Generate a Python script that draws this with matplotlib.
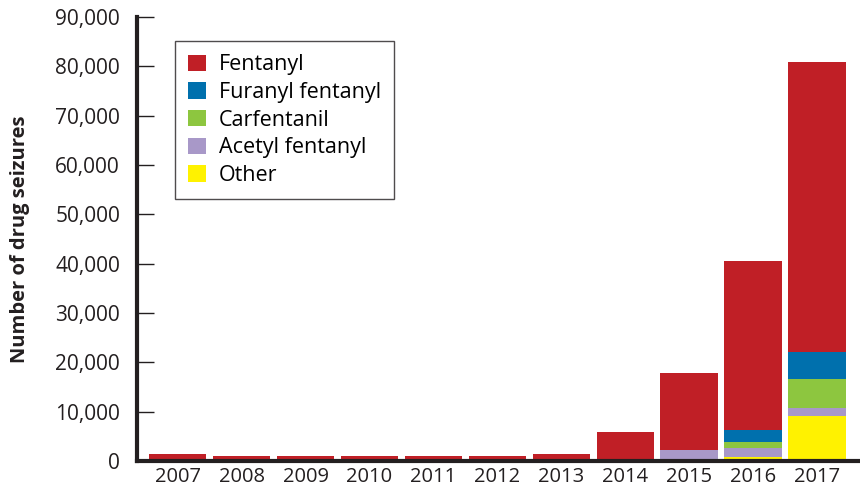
import matplotlib.pyplot as plt
import numpy as np

years = ["2007", "2008", "2009", "2010", "2011", "2012", "2013", "2014", "2015", "2016", "2017"]
other = [0, 0, 0, 0, 0, 0, 0, 0, 300, 900, 9100]
acetyl = [0, 0, 0, 0, 0, 0, 0, 0, 2000, 1700, 1600]
carfentanil = [0, 0, 0, 0, 0, 0, 0, 0, 0, 1300, 6000]
furanyl = [0, 0, 0, 0, 0, 0, 0, 0, 0, 2400, 5300]
fentanyl = [1400, 1000, 1000, 1000, 1000, 1000, 1400, 5900, 15600, 34300, 58900]

plt.rcParams['font.family'] = ['Open Sans', 'DejaVu Sans']

fig = plt.figure(figsize=(8.6, 4.93), dpi=100)
ax = fig.add_axes([0.159, 0.065, 0.841, 0.9005])

x = np.arange(len(years))
w = 0.9
series = [
    ("Other", other, "#FFF200"),
    ("Acetyl fentanyl", acetyl, "#A898C8"),
    ("Carfentanil", carfentanil, "#8DC63F"),
    ("Furanyl fentanyl", furanyl, "#0070AD"),
    ("Fentanyl", fentanyl, "#C01F26"),
]
bottom = np.zeros(len(years))
handles = {}
for name, vals, col in series:
    b = ax.bar(x, vals, w, bottom=bottom, color=col, label=name, zorder=2)
    handles[name] = b
    bottom += np.array(vals)

order = ["Fentanyl", "Furanyl fentanyl", "Carfentanil", "Acetyl fentanyl", "Other"]
leg = ax.legend([handles[n] for n in order], order, loc="upper left",
                bbox_to_anchor=(0.053, 0.945), fontsize=15.5, frameon=True,
                fancybox=False, borderpad=0.6, handlelength=0.85, handleheight=0.8,
                labelspacing=0.31, handletextpad=0.6, borderaxespad=0)
leg.get_frame().set_edgecolor("#231F20")
leg.get_frame().set_linewidth(1.0)

ax.set_xlim(-0.64, 10.67)
ax.set_ylim(0, 90000)
ax.set_xticks(x)
ax.set_xticklabels(years)
ax.set_yticks(np.arange(0, 90001, 10000))
ax.set_yticklabels([f"{v:,}" for v in range(0, 90001, 10000)])
ax.tick_params(axis="y", direction="in", length=12, width=1, color="#231F20",
               labelsize=15, labelcolor="#231F20", pad=12)
ax.tick_params(axis="x", length=0, labelsize=14.5, labelcolor="#231F20", pad=4)

for s in ["top", "right"]:
    ax.spines[s].set_visible(False)
ax.spines["left"].set_linewidth(3)
ax.spines["bottom"].set_linewidth(3)
ax.spines["left"].set_color("#231F20")
ax.spines["bottom"].set_color("#231F20")

ax.set_ylabel("Number of drug seizures", fontsize=14.5, fontweight="bold",
              color="#231F20", labelpad=18)

fig.savefig("out.png", dpi=100)
